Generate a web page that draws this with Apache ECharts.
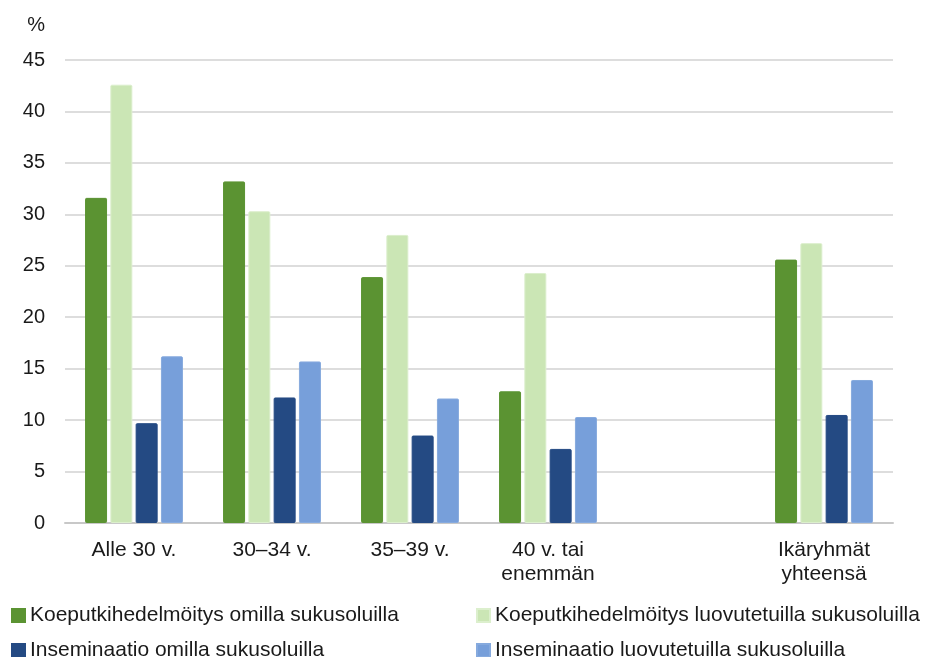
<!DOCTYPE html>
<html>
<head>
<meta charset="utf-8">
<script src="https://cdn.jsdelivr.net/npm/echarts@6/dist/echarts.min.js"></script>
<style>
html,body{margin:0;padding:0;background:#fff;}
#chart{width:925px;height:657px;}
</style>
</head>
<body>
<div id="chart"></div>
<script>
var categories = ['Alle 30 v.', '30–34 v.', '35–39 v.', '40 v. tai\nenemmän', '', 'Ikäryhmät\nyhteensä'];
var seriesNames = [
  'Koeputkihedelmöitys omilla sukusoluilla',
  'Koeputkihedelmöitys luovutetuilla sukusoluilla',
  'Inseminaatio omilla sukusoluilla',
  'Inseminaatio luovutetuilla sukusoluilla'
];
var ivfOwn = [31.6, 33.2, 23.9, 12.8, null, 25.6];
var ivfDonor = [42.6, 30.3, 28.0, 24.3, null, 27.2];
var insOwn = [9.7, 12.2, 8.5, 7.2, null, 10.5];
var insDonor = [16.2, 15.7, 12.1, 10.3, null, 13.9];
var yTicks = [0, 5, 10, 15, 20, 25, 30, 35, 40, 45];

var FONT = '"Liberation Sans", Arial, sans-serif';
var colors = ['#5b9332', '#cbe6b5', '#244a83', '#779fda'];
var borders = ['#5b9332', '#dcefcd', '#244a83', '#86aade'];
var values = [ivfOwn, ivfDonor, insOwn, insDonor];

var series = values.map(function (v, i) {
  return {
    name: seriesNames[i],
    type: 'bar',
    data: v,
    barWidth: 22,
    barGap: '15%',
    itemStyle: { color: colors[i], borderColor: borders[i], borderWidth: 1, borderRadius: 1 }
  };
});

var legendPos = [[11, 605], [476, 605], [11, 640], [476, 640]];
var legends = seriesNames.map(function (n, i) {
  return {
    data: [n],
    left: legendPos[i][0],
    top: legendPos[i][1],
    padding: 0,
    icon: 'rect',
    itemWidth: 13,
    itemHeight: 13,
    itemGap: 0,
    selectedMode: false,
    textStyle: { fontFamily: FONT, fontSize: 21, color: '#1a1a1a' }
  };
});

var chart = echarts.init(document.getElementById('chart'), null, { renderer: 'canvas' });
chart.setOption({
  animation: false,
  textStyle: { fontFamily: FONT },
  grid: { left: 65, right: 32, top: 60, bottom: 134, containLabel: false },
  legend: legends,
  xAxis: {
    type: 'category',
    data: categories,
    axisLine: { lineStyle: { color: '#c8c8c8', width: 2 } },
    axisTick: { show: false },
    axisLabel: { fontFamily: FONT, fontSize: 21, color: '#1a1a1a', margin: 15, lineHeight: 24, interval: 0 }
  },
  yAxis: {
    type: 'value',
    min: yTicks[0],
    max: yTicks[yTicks.length - 1],
    interval: 5,
    name: '%',
    nameLocation: 'end',
    nameGap: 25,
    nameTextStyle: { fontFamily: FONT, fontSize: 20, color: '#1a1a1a', align: 'right', padding: [0, 20, 0, 0] },
    axisLine: { show: false },
    axisTick: { show: false },
    splitLine: { lineStyle: { color: '#d2d2d2', width: 1.5 } },
    axisLabel: { fontFamily: FONT, fontSize: 20, color: '#1a1a1a', margin: 20 }
  },
  series: series
});
</script>
</body>
</html>
